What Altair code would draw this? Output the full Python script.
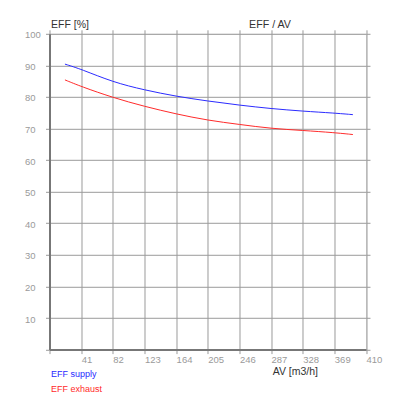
import altair as alt
import pandas as pd

# ---- data ----
av = [20, 41, 82, 123, 164, 205, 246, 287, 328, 369, 393]
eff_supply = [90.4, 88.8, 84.7, 82.2, 80.2, 78.7, 77.4, 76.3, 75.5, 74.9, 74.4]
eff_exhaust = [85.4, 83.3, 79.8, 77.0, 74.6, 72.6, 71.3, 70.0, 69.4, 68.7, 68.1]
series_names = ["EFF supply", "EFF exhaust"]
series_colors = ["#2a2aff", "#ff2a2a"]
x_ticks = [0, 41, 82, 123, 164, 205, 246, 287, 328, 369, 410]
y_ticks = [0, 10, 20, 30, 40, 50, 60, 70, 80, 90, 100]

rows = []
for a, s, e in zip(av, eff_supply, eff_exhaust):
    rows.append({"av": a, "eff": s, "series": series_names[0]})
    rows.append({"av": a, "eff": e, "series": series_names[1]})
df = pd.DataFrame(rows)

GRID = "#9a9a9a"
AXIS = "#777777"
LABEL = "#9a9a9a"
FONT = "Liberation Sans"

xscale = alt.Scale(domain=[0, 410], nice=False, zero=True)
yscale = alt.Scale(domain=[0, 100], nice=False, zero=True)
cscale = alt.Scale(domain=series_names, range=series_colors)

lines = alt.Chart(df).mark_line(strokeWidth=1, interpolate="basis").encode(
    x=alt.X("av:Q", scale=xscale, axis=alt.Axis(
        values=x_ticks, grid=True, gridColor=GRID, gridWidth=1,
        domainColor=AXIS, domainWidth=2, tickColor=GRID, tickSize=4,
        labelAlign="left", labelBaseline="top", labelPadding=1,
        labelFontSize=9.5, labelColor=LABEL, labelFont=FONT,
        labelExpr="datum.value == 0 ? '' : datum.label",
        labelFlush=False, labelOverlap=False, title=None)),
    y=alt.Y("eff:Q", scale=yscale, axis=alt.Axis(
        values=y_ticks, grid=True, gridColor=GRID, gridWidth=1,
        domainColor=AXIS, domainWidth=2, tickColor=GRID, tickSize=4,
        labelAlign="left", labelBaseline="middle", labelPadding=21,
        labelOffset=1, labelFontSize=9.5, labelColor=LABEL, labelFont=FONT,
        labelExpr="datum.value == 0 ? '' : datum.label",
        labelFlush=False, labelOverlap=False, title=None)),
    color=alt.Color("series:N", scale=cscale, legend=None),
    detail="series:N",
)

frame = alt.Chart(df).mark_line(opacity=0).encode(
    x=alt.X("av:Q", scale=xscale, axis=alt.Axis(
        orient="top", values=x_ticks, grid=False, domain=False, labels=False,
        tickColor=GRID, tickSize=4, title=None)),
    y=alt.Y("eff:Q", scale=yscale, axis=alt.Axis(
        orient="right", values=y_ticks, grid=False, domain=False, labels=False,
        tickColor=GRID, tickSize=4, title=None)),
    detail="series:N",
)

t1 = alt.Chart(pd.DataFrame({"t": ["EFF [%]"]})).mark_text(
    align="left", baseline="alphabetic", fontSize=10.5, font=FONT, color="#333333"
).encode(x=alt.value(1.5), y=alt.value(-5.5), text="t:N")
t2 = alt.Chart(pd.DataFrame({"t": ["EFF / AV"]})).mark_text(
    align="center", baseline="alphabetic", fontSize=10.7, font=FONT, color="#333333"
).encode(x=alt.value(220.5), y=alt.value(-5.5), text="t:N")
t3 = alt.Chart(pd.DataFrame({"t": ["AV [m3/h]"]})).mark_text(
    align="right", baseline="alphabetic", fontSize=10.5, font=FONT, color="#333333"
).encode(x=alt.value(268.5), y=alt.value(341.5), text="t:N")

leg1 = alt.Chart(pd.DataFrame({"series": [series_names[0]]})).mark_text(
    align="left", baseline="alphabetic", fontSize=9, font=FONT, color=series_colors[0]
).encode(x=alt.value(1.5), y=alt.value(343), text="series:N")
leg2 = alt.Chart(pd.DataFrame({"series": [series_names[1]]})).mark_text(
    align="left", baseline="alphabetic", fontSize=9, font=FONT, color=series_colors[1]
).encode(x=alt.value(1.5), y=alt.value(358.5), text="series:N")

chart = alt.layer(lines, frame, t1, t2, t3, leg1, leg2).resolve_axis(
    x="independent", y="independent"
).properties(
    width=316.5, height=315.8,
    autosize=alt.AutoSizeParams(type="none"),
    padding={"left": 41.5, "top": 25.8, "right": 26, "bottom": 50},
).configure_view(stroke=None).configure(background="white")

chart.save("out.html", embed_options={"renderer": "svg", "actions": False})
